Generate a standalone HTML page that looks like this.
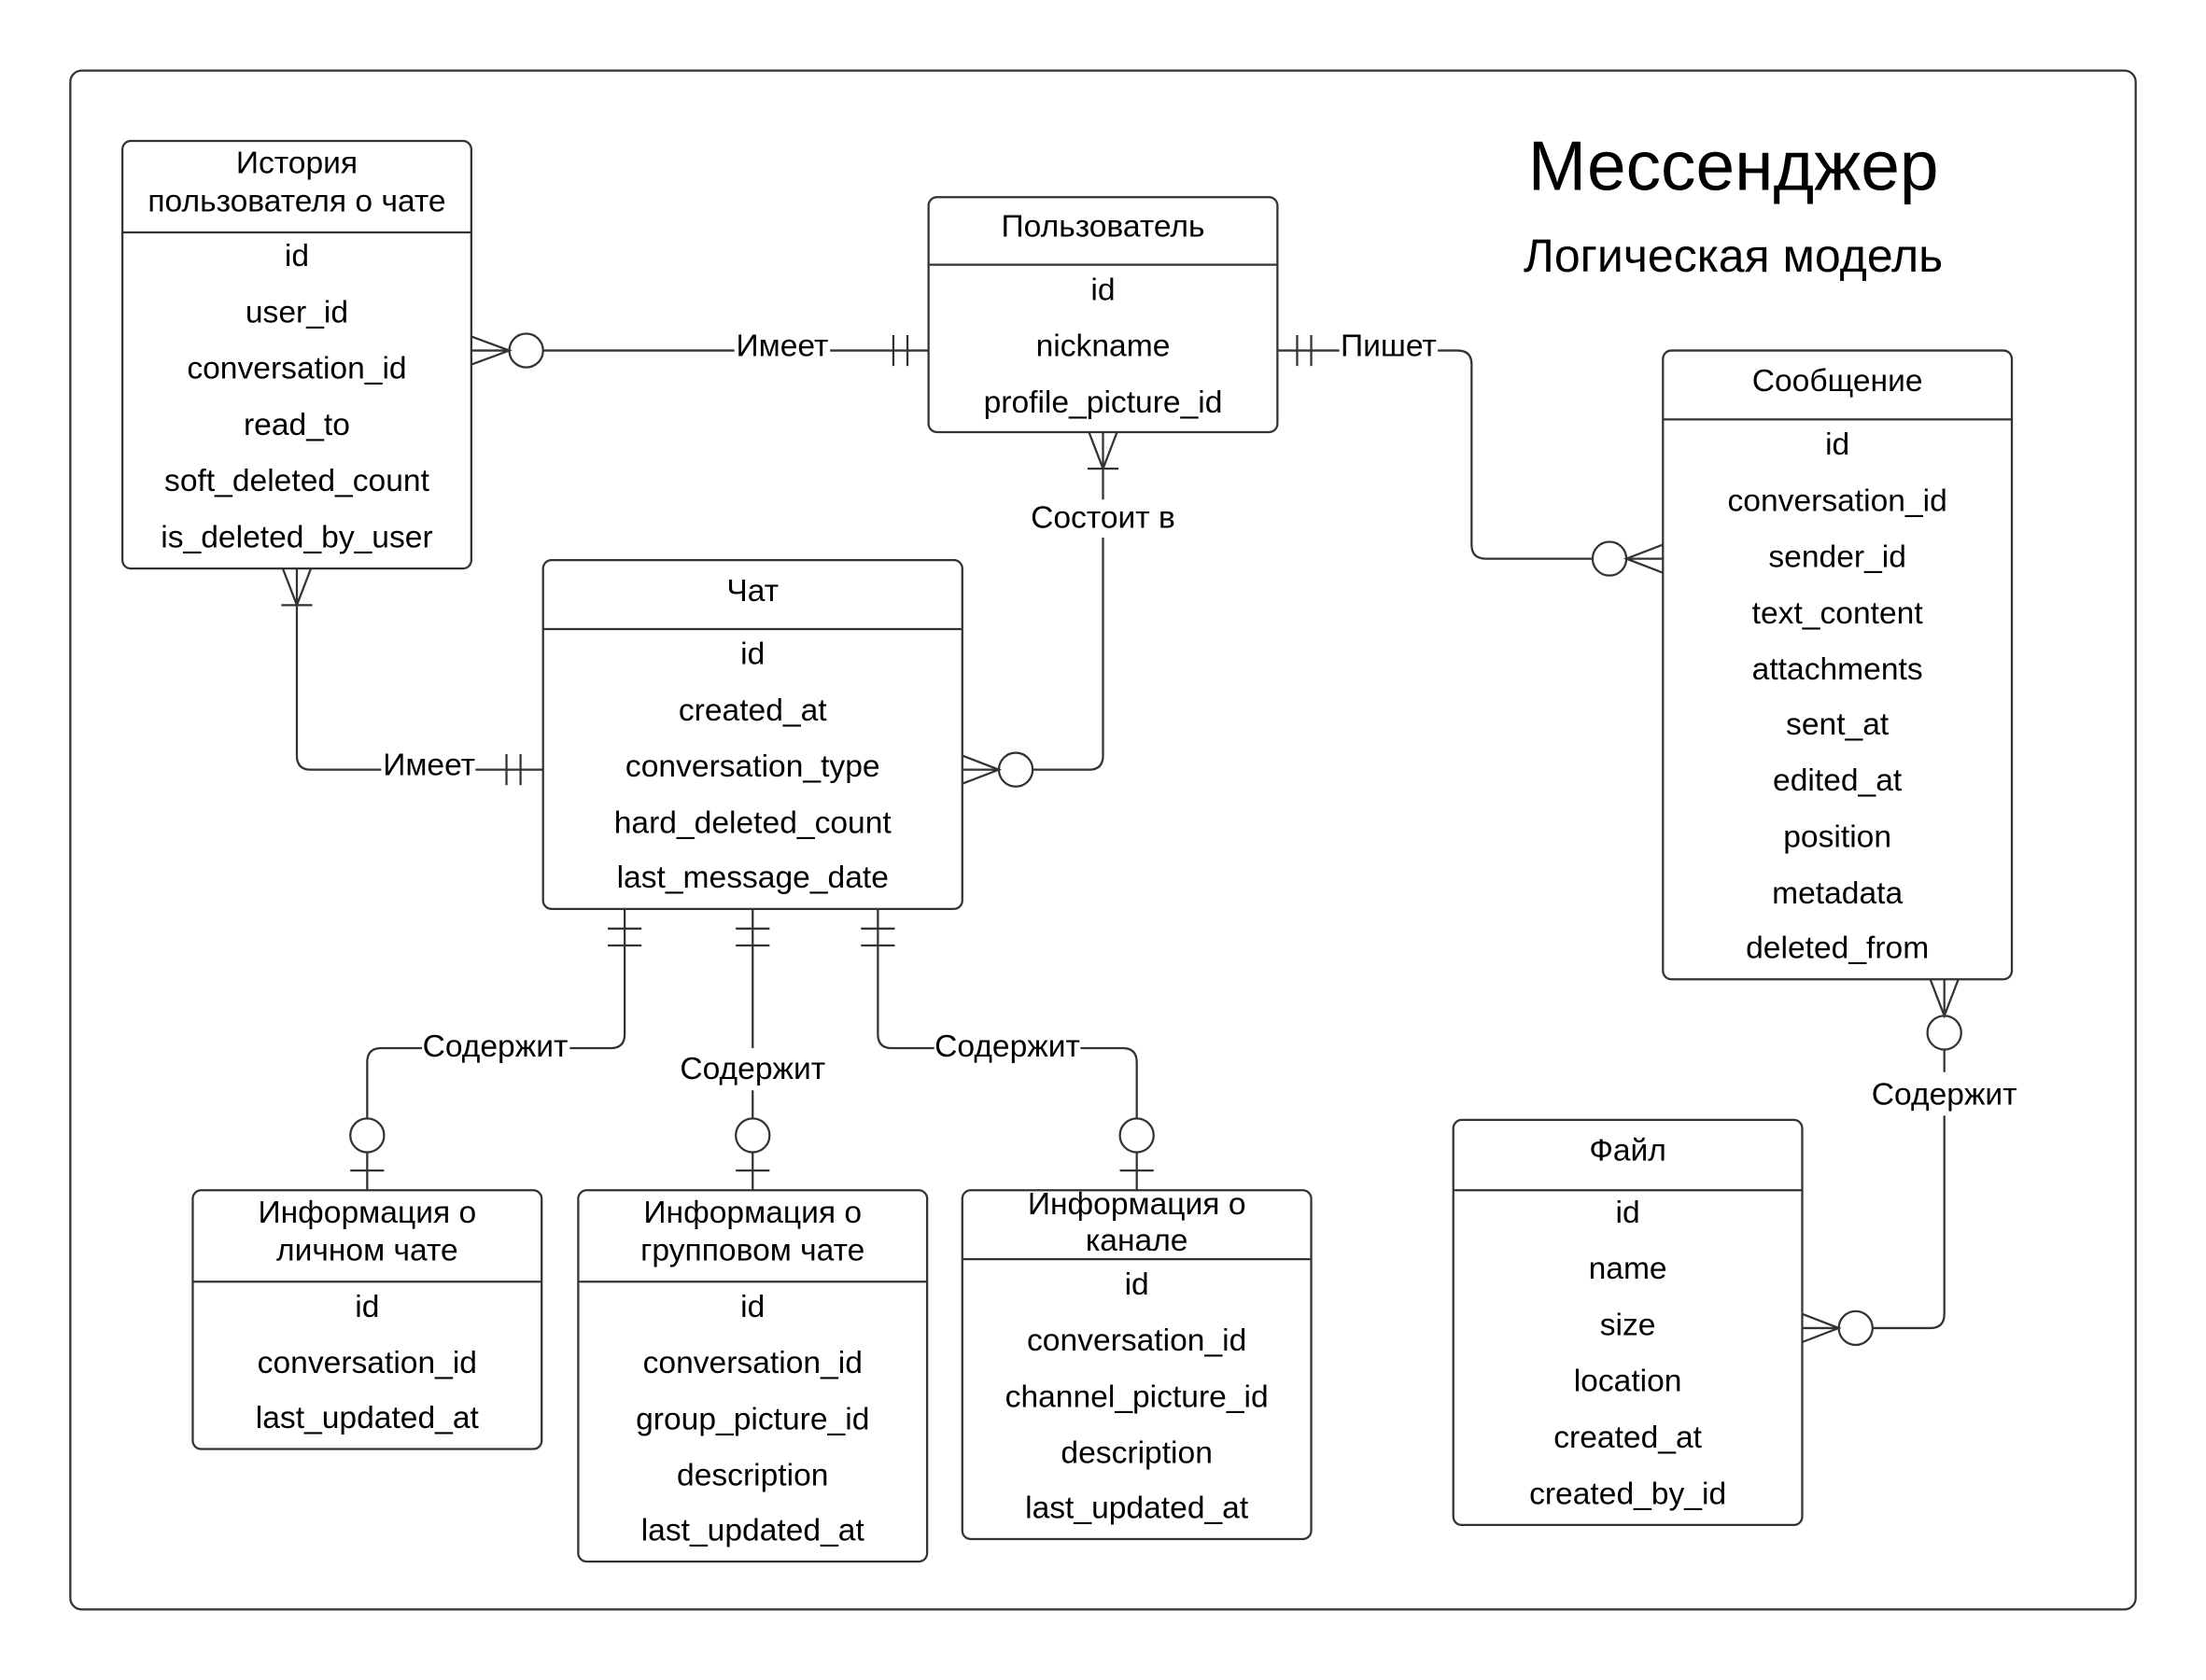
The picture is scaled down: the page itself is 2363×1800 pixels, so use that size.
<!DOCTYPE html>
<html><head><meta charset="utf-8"><style>
html,body{margin:0;padding:0;background:#fff;}
svg{display:block;}
text{font-family:"Liberation Sans","DejaVu Sans",sans-serif;fill:#000;}
</style></head><body>
<svg width="2363" height="1800" viewBox="0 0 1568 1194" xmlns="http://www.w3.org/2000/svg">
<g fill="none" stroke="#333" stroke-width="1.5">
<rect x="50" y="50" width="1468" height="1094" rx="8"/>
<rect x="87" y="100" width="248" height="304" rx="6"/><line x1="87" y1="165" x2="335" y2="165"/>
<rect x="660" y="140" width="248" height="167" rx="6"/><line x1="660" y1="188" x2="908" y2="188"/>
<rect x="1182" y="249" width="248" height="447" rx="6"/><line x1="1182" y1="298" x2="1430" y2="298"/>
<rect x="386" y="398" width="298" height="248" rx="6"/><line x1="386" y1="447" x2="684" y2="447"/>
<rect x="137" y="846" width="248" height="184" rx="6"/><line x1="137" y1="911" x2="385" y2="911"/>
<rect x="411" y="846" width="248" height="264" rx="6"/><line x1="411" y1="911" x2="659" y2="911"/>
<rect x="684" y="846" width="248" height="248" rx="6"/><line x1="684" y1="895" x2="932" y2="895"/>
<rect x="1033" y="796" width="248" height="288" rx="6"/><line x1="1033" y1="846" x2="1281" y2="846"/>

<path d="M335 239 L362 249 L335 259 M335 249 L362 249"/>
<circle cx="374" cy="249" r="12"/>
<line x1="386" y1="249" x2="522" y2="249"/>
<line x1="590" y1="249" x2="660" y2="249"/>
<line x1="635" y1="238" x2="635" y2="260"/><line x1="645" y1="238" x2="645" y2="260"/>

<line x1="908" y1="249" x2="952" y2="249"/>
<line x1="922" y1="238" x2="922" y2="260"/><line x1="932" y1="238" x2="932" y2="260"/>
<path d="M1022 249 L1036 249 Q1046 249 1046 259 L1046 387 Q1046 397 1056 397 L1132 397"/>
<circle cx="1144" cy="397" r="12"/>
<path d="M1182 387 L1156 397 L1182 407 M1156 397 L1182 397"/>

<path d="M774 307 L784 333 L794 307 M784 307 L784 355"/>
<line x1="773" y1="333" x2="795" y2="333"/>
<path d="M784 382 L784 537 Q784 547 774 547 L734 547"/>
<circle cx="722" cy="547" r="12"/>
<path d="M684 537 L710 547 L684 557 M684 547 L710 547"/>

<path d="M201 404 L211 430 L221 404 M211 404 L211 430"/>
<line x1="200" y1="430" x2="222" y2="430"/>
<path d="M211 430 L211 537 Q211 547 221 547 L271 547"/>
<line x1="338" y1="547" x2="386" y2="547"/>
<line x1="360" y1="536" x2="360" y2="558"/><line x1="370" y1="536" x2="370" y2="558"/>

<path d="M444 646 L444 735 Q444 745 434 745 L405 745"/>
<line x1="432" y1="660" x2="456" y2="660"/><line x1="432" y1="672" x2="456" y2="672"/>
<path d="M300 745 L271 745 Q261 745 261 755 L261 795"/>
<circle cx="261" cy="807" r="12"/>
<line x1="261" y1="819" x2="261" y2="846"/><line x1="249" y1="832" x2="273" y2="832"/>
<line x1="535" y1="646" x2="535" y2="745"/>
<line x1="523" y1="660" x2="547" y2="660"/><line x1="523" y1="672" x2="547" y2="672"/>
<line x1="535" y1="775" x2="535" y2="795"/>
<circle cx="535" cy="807" r="12"/>
<line x1="535" y1="819" x2="535" y2="846"/><line x1="523" y1="832" x2="547" y2="832"/>
<path d="M624 646 L624 735 Q624 745 634 745 L664 745"/>
<line x1="612" y1="660" x2="636" y2="660"/><line x1="612" y1="672" x2="636" y2="672"/>
<path d="M768 745 L798 745 Q808 745 808 755 L808 795"/>
<circle cx="808" cy="807" r="12"/>
<line x1="808" y1="819" x2="808" y2="846"/><line x1="796" y1="832" x2="820" y2="832"/>

<path d="M1372 696 L1382 722 L1392 696 M1382 696 L1382 722"/>
<circle cx="1382" cy="734" r="12"/>
<line x1="1382" y1="746" x2="1382" y2="762"/>
<path d="M1382 793 L1382 934 Q1382 944 1372 944 L1331 944"/>
<circle cx="1319" cy="944" r="12"/>
<path d="M1281 934 L1307 944 L1281 954 M1281 944 L1307 944"/>
</g>

<g font-size="22.3" text-anchor="middle">
<text x="1232" y="135" font-size="49.7">Мессенджер</text>
<text x="1232" y="193" font-size="33.2">Логическая модель</text>

<text x="211" y="123">История</text>
<text x="211" y="150">пользователя о чате</text>
<text x="211" y="189">id</text><text x="211" y="229">user_id</text><text x="211" y="269">conversation_id</text>
<text x="211" y="309">read_to</text><text x="211" y="349">soft_deleted_count</text><text x="211" y="389">is_deleted_by_user</text>

<text x="784" y="168">Пользователь</text>
<text x="784" y="213">id</text><text x="784" y="253">nickname</text><text x="784" y="293">profile_picture_id</text>

<text x="1306" y="278">Сообщение</text>
<text x="1306" y="323">id</text><text x="1306" y="363">conversation_id</text><text x="1306" y="403">sender_id</text>
<text x="1306" y="443">text_content</text><text x="1306" y="483">attachments</text><text x="1306" y="522">sent_at</text>
<text x="1306" y="562">edited_at</text><text x="1306" y="602">position</text><text x="1306" y="642">metadata</text>
<text x="1306" y="681">deleted_from</text>

<text x="535" y="427">Чат</text>
<text x="535" y="472">id</text><text x="535" y="512">created_at</text><text x="535" y="552">conversation_type</text>
<text x="535" y="592">hard_deleted_count</text><text x="535" y="631">last_message_date</text>

<text x="261" y="869">Информация о</text><text x="261" y="896">личном чате</text>
<text x="261" y="936">id</text><text x="261" y="976">conversation_id</text><text x="261" y="1015">last_updated_at</text>

<text x="535" y="869">Информация о</text><text x="535" y="896">групповом чате</text>
<text x="535" y="936">id</text><text x="535" y="976">conversation_id</text><text x="535" y="1016">group_picture_id</text>
<text x="535" y="1056">description</text><text x="535" y="1095">last_updated_at</text>

<text x="808" y="863">Информация о</text><text x="808" y="889">канале</text>
<text x="808" y="920">id</text><text x="808" y="960">conversation_id</text><text x="808" y="1000">channel_picture_id</text>
<text x="808" y="1040">description</text><text x="808" y="1079">last_updated_at</text>

<text x="1157" y="825">Файл</text>
<text x="1157" y="869">id</text><text x="1157" y="909">name</text><text x="1157" y="949">size</text>
<text x="1157" y="989">location</text><text x="1157" y="1029">created_at</text><text x="1157" y="1069">created_by_id</text>

<text x="556" y="253">Имеет</text>
<text x="987" y="253">Пишет</text>
<text x="784" y="375">Состоит в</text>
<text x="305" y="551">Имеет</text>
<text x="352" y="751">Содержит</text>
<text x="535" y="767">Содержит</text>
<text x="716" y="751">Содержит</text>
<text x="1382" y="785">Содержит</text>
</g>
</svg>
</body></html>
